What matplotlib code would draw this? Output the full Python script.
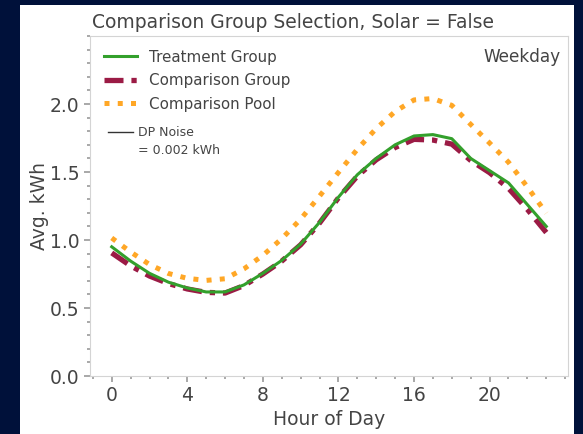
import matplotlib
matplotlib.use('Agg')
from matplotlib import pyplot as plt
from matplotlib.lines import Line2D
from matplotlib.patches import Rectangle
import numpy as np

hours = list(range(24))
treatment = [0.95, 0.845, 0.755, 0.69, 0.647, 0.618, 0.618, 0.67, 0.755, 0.85, 0.97, 1.13,
             1.315, 1.48, 1.60, 1.70, 1.765, 1.775, 1.745, 1.60, 1.51, 1.42, 1.26, 1.10]
comparison = [0.905, 0.81, 0.735, 0.68, 0.64, 0.615, 0.61, 0.665, 0.75, 0.845, 0.965, 1.125,
              1.31, 1.47, 1.59, 1.68, 1.74, 1.735, 1.705, 1.585, 1.495, 1.38, 1.225, 1.055]
pool = [1.015, 0.912, 0.82, 0.754, 0.718, 0.703, 0.715, 0.788, 0.887, 1.01, 1.153, 1.323,
        1.497, 1.667, 1.82, 1.945, 2.03, 2.04, 1.99, 1.85, 1.713, 1.572, 1.39, 1.197]
dp_noise = 0.002

text_col = '#444444'
spine_col = '#d4d4d4'

fig = plt.figure(figsize=(5.83, 4.34), dpi=100)
fig.patch.set_facecolor('#00113a')
# white panel behind the chart
fig.patches.append(Rectangle((20 / 583, 0), 554 / 583, 429 / 434, transform=fig.transFigure,
                             facecolor='white', edgecolor='none', zorder=-10))

ax = fig.add_axes([90 / 583, 58 / 434, 478 / 583, 340 / 434])
ax.plot(hours, treatment, color='#33a02c', lw=2.2, label='Treatment Group', zorder=3)
ax.plot(hours, comparison, color='#9b1b45', lw=3.8, dashes=(3.6, 1.5, 1, 1.5),
        label='Comparison Group', zorder=2)
ax.plot(hours, pool, color='#ffa726', lw=3.6, ls=':', label='Comparison Pool', zorder=2)

ax.set_ylim(0, 2.5)
ax.set_yticks(np.arange(0, 2.01, 0.5))
ax.set_yticks(np.arange(0, 2.51, 0.1), minor=True)
ax.set_xticks(range(0, 24, 4))
ax.set_xticks(range(-1, 25), minor=True)
ax.set_xlim(-1.15, 24.15)

for s in ax.spines.values():
    s.set_color(spine_col)
ax.tick_params(which='major', length=4, width=1.2, color='#999999', labelcolor=text_col, labelsize=13.5)
ax.tick_params(which='minor', length=2, width=1.2, color='#999999')

ax.set_xlabel('Hour of Day', fontsize=13.5, color=text_col, labelpad=3)
ax.set_ylabel('Avg. kWh', fontsize=13.5, color=text_col, labelpad=1)
fig.text(293 / 583, 412 / 434, 'Comparison Group Selection, Solar = False', ha='center', va='center',
         fontsize=13.5, color=text_col)

ax.legend(loc='upper left', frameon=False, fontsize=10.9, labelcolor=text_col,
          bbox_to_anchor=(0.0, 1.0), handlelength=2.2, borderaxespad=0.5, labelspacing=0.56)

# DP noise key, line beside the first text row
ax.add_line(Line2D([0.038, 0.09], [0.718, 0.718], transform=ax.transAxes, color='#333333', lw=1))
ax.text(0.1, 0.735, 'DP Noise\n= %.3f kWh' % dp_noise, transform=ax.transAxes, ha='left', va='top',
        fontsize=9, color=text_col, linespacing=1.5)

ax.text(0.985, 0.965, 'Weekday', transform=ax.transAxes, ha='right', va='top',
        fontsize=12.2, color=text_col)

plt.savefig('out.png', dpi=100, facecolor=fig.get_facecolor())
